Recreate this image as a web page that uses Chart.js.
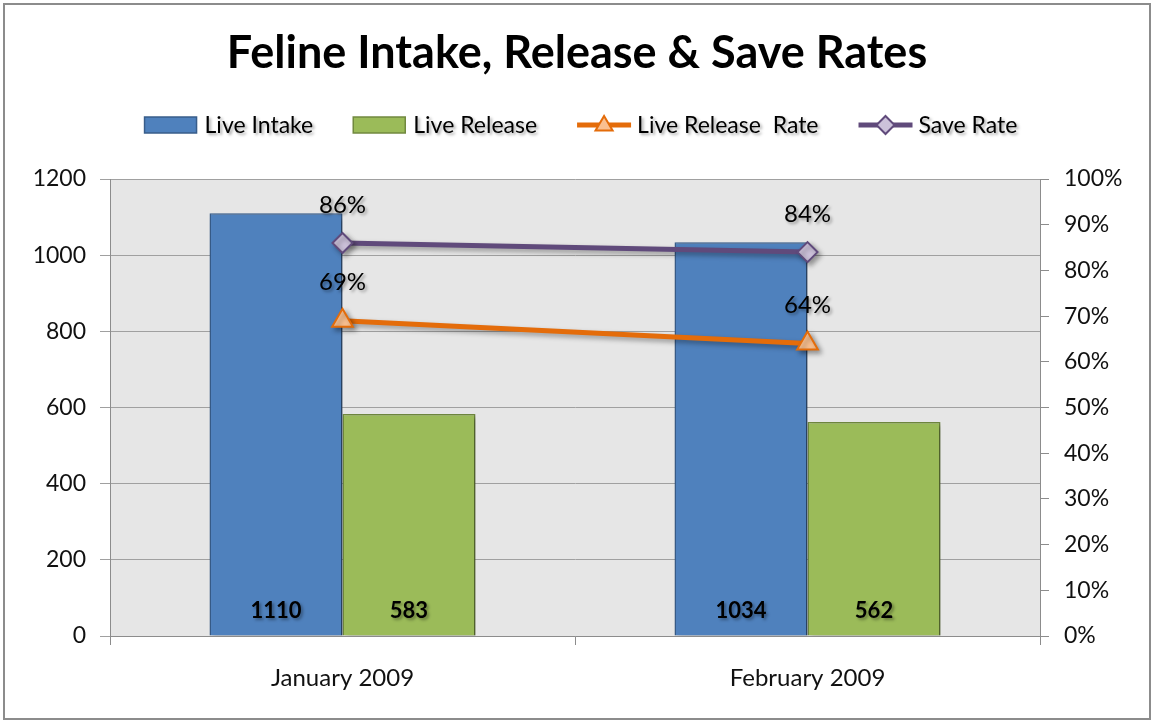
<!DOCTYPE html>
<html>
<head>
<meta charset="utf-8">
<title>Feline Intake, Release & Save Rates</title>
<script src="https://cdn.jsdelivr.net/npm/chart.js@4.4.1/dist/chart.umd.min.js"></script>
<style>
    html, body { margin: 0; padding: 0; background: #fff; }
    #wrap { width: 1154px; height: 723px; position: relative; }
</style>
</head>
<body>
<div id="wrap"><canvas id="myChart" width="1154" height="723"></canvas></div>
<script>
    const months = ['January 2009', 'February 2009'];
    const liveIntake = [1110, 1034];
    const liveRelease = [583, 562];
    const liveReleaseRate = [69, 64];
    const saveRate = [86, 84];
    const leftTicks = [0, 200, 400, 600, 800, 1000, 1200];
    const rightTicks = [0, 10, 20, 30, 40, 50, 60, 70, 80, 90, 100];

    const FONT = 'Lato, "Open Sans", sans-serif';
    const ctx = document.getElementById('myChart');

    function shadowOn(c, blur, off) {
        c.shadowColor = 'rgba(0,0,0,0.35)';
        c.shadowBlur = blur;
        c.shadowOffsetX = off;
        c.shadowOffsetY = off;
    }

    function drawMarker(c, style, x, y, r, fill, stroke) {
        c.beginPath();
        if (style === 'triangle') {
            c.moveTo(x, y - r);
            c.lineTo(x + r * 0.95, y + r * 0.6);
            c.lineTo(x - r * 0.95, y + r * 0.6);
        } else {
            c.moveTo(x, y - r);
            c.lineTo(x + r, y);
            c.lineTo(x, y + r);
            c.lineTo(x - r, y);
        }
        c.closePath();
        c.fillStyle = fill;
        c.fill();
        c.lineWidth = 2;
        c.strokeStyle = stroke;
        c.stroke();
    }

    // plot background + outer frame
    const frame = {
        id: 'frame',
        beforeDraw(chart) {
            const c = chart.ctx;
            const a = chart.chartArea;
            c.save();
            c.fillStyle = '#fff';
            c.fillRect(0, 0, chart.width, chart.height);
            c.fillStyle = '#e6e6e6';
            c.fillRect(a.left, a.top, a.right - a.left, a.bottom - a.top);
            c.restore();
        },
        afterDraw(chart) {
            const c = chart.ctx;
            c.save();
            c.strokeStyle = '#8c8c8c';
            c.lineWidth = 2;
            c.strokeRect(4, 4, chart.width - 8, chart.height - 8);
            c.restore();
        }
    };

    // soft drop shadow under bars and lines
    const shade = {
        id: 'shade',
        beforeDatasetDraw(chart) {
            chart.ctx.save();
            shadowOn(chart.ctx, 5, 3);
        },
        afterDatasetDraw(chart) {
            chart.ctx.restore();
        }
    };

    // legend drawn by hand so lines get their marker
    const legendBox = {
        id: 'legendBox',
        afterDraw(chart) {
            const c = chart.ctx;
            const y = 125;
            c.save();
            c.font = '23px ' + FONT;
            c.textBaseline = 'middle';
            const items = chart.data.datasets.map(ds => ({
                ds: ds,
                w: 54 + 6 + c.measureText(ds.label).width
            }));
            const gap = 40;
            const total = items.reduce((s, it) => s + it.w, 0) + gap * (items.length - 1);
            let x = 581 - total / 2;
            items.forEach(it => {
                const ds = it.ds;
                if (ds.type === 'line') {
                    c.strokeStyle = ds.borderColor;
                    c.lineWidth = 5;
                    c.beginPath();
                    c.moveTo(x, y);
                    c.lineTo(x + 54, y);
                    c.stroke();
                    drawMarker(c, ds.pointStyle, x + 27, y, 9, ds.pointBackgroundColor, ds.pointBorderColor);
                } else {
                    c.fillStyle = ds.backgroundColor;
                    c.fillRect(x, y - 8, 52, 16);
                    c.strokeStyle = ds.borderColor;
                    c.lineWidth = 1.5;
                    c.strokeRect(x, y - 8, 52, 16);
                }
                shadowOn(c, 3, 2);
                c.fillStyle = '#000';
                c.fillText(ds.label, x + 60, y + 1);
                c.shadowColor = 'transparent';
                x += it.w + gap;
            });
            c.restore();
        }
    };

    // value labels
    const valueLabels = {
        id: 'valueLabels',
        afterDatasetsDraw(chart) {
            const c = chart.ctx;
            c.save();
            c.textAlign = 'center';
            c.textBaseline = 'middle';
            shadowOn(c, 3, 2);
            c.fillStyle = '#000';
            chart.data.datasets.forEach((ds, i) => {
                const meta = chart.getDatasetMeta(i);
                meta.data.forEach((el, j) => {
                    if (ds.type === 'line') {
                        c.font = '24px ' + FONT;
                        c.fillText(ds.data[j] + '%', el.x, el.y - 38);
                    } else {
                        c.font = 'bold 22px ' + FONT;
                        c.fillText(ds.data[j], el.x, chart.chartArea.bottom - 25);
                    }
                });
            });
            c.restore();
        }
    };

    const myChart = new Chart(ctx, {
        data: {
            labels: months,
            datasets: [
                {
                    type: 'bar',
                    label: 'Live Intake',
                    data: liveIntake,
                    backgroundColor: '#4f81bd',
                    borderColor: '#385d8a',
                    borderWidth: 1.5,
                    yAxisID: 'y',
                    order: 2
                },
                {
                    type: 'bar',
                    label: 'Live Release',
                    data: liveRelease,
                    backgroundColor: '#9bbb59',
                    borderColor: '#71893f',
                    borderWidth: 1.5,
                    yAxisID: 'y',
                    order: 2
                },
                {
                    type: 'line',
                    label: 'Live Release  Rate',
                    data: liveReleaseRate,
                    borderColor: '#e46c0a',
                    borderWidth: 5,
                    pointStyle: 'triangle',
                    pointRadius: 12,
                    pointBorderWidth: 2,
                    pointBackgroundColor: '#fac090',
                    pointBorderColor: '#e46c0a',
                    yAxisID: 'y2',
                    order: 1
                },
                {
                    type: 'line',
                    label: 'Save Rate',
                    data: saveRate,
                    borderColor: '#604a7b',
                    borderWidth: 5,
                    pointStyle: 'rectRot',
                    pointRadius: 10,
                    pointBorderWidth: 2,
                    pointBackgroundColor: '#ccc1da',
                    pointBorderColor: '#604a7b',
                    yAxisID: 'y2',
                    order: 0
                }
            ]
        },
        options: {
            responsive: false,
            animation: false,
            layout: { padding: 0 },
            datasets: {
                bar: { categoryPercentage: 0.572, barPercentage: 1 }
            },
            plugins: {
                legend: { display: false },
                tooltip: { enabled: false },
                title: {
                    display: true,
                    text: 'Feline Intake, Release & Save Rates',
                    color: '#000',
                    font: { family: FONT, size: 45, weight: 'bold', lineHeight: 1.2 },
                    padding: { top: 26, bottom: 99 }
                }
            },
            scales: {
                x: {
                    grid: {
                        offset: true,
                        drawOnChartArea: false,
                        tickLength: 9,
                        color: '#8c8c8c'
                    },
                    border: { color: '#8c8c8c' },
                    ticks: {
                        color: '#111',
                        padding: 19,
                        font: { family: FONT, size: 24 }
                    },
                    afterFit(scale) { scale.height = 87; }
                },
                y: {
                    position: 'left',
                    min: 0,
                    max: 1200,
                    afterBuildTicks(scale) { scale.ticks = leftTicks.map(v => ({ value: v })); },
                    grid: { color: '#a0a0a0', tickLength: 10 },
                    border: { color: '#8c8c8c' },
                    ticks: {
                        color: '#111',
                        padding: 14,
                        font: { family: FONT, size: 23 },
                        callback: v => String(v)
                    },
                    afterFit(scale) { scale.width = 110; }
                },
                y2: {
                    position: 'right',
                    min: 0,
                    max: 100,
                    afterBuildTicks(scale) { scale.ticks = rightTicks.map(v => ({ value: v })); },
                    grid: { drawOnChartArea: false, color: '#8c8c8c', tickLength: 9 },
                    border: { color: '#8c8c8c' },
                    ticks: {
                        color: '#111',
                        padding: 15,
                        font: { family: FONT, size: 23 },
                        callback: v => v + '%'
                    },
                    afterFit(scale) { scale.width = 114; }
                }
            }
        },
        plugins: [frame, shade, valueLabels, legendBox]
    });
</script>
</body>
</html>
